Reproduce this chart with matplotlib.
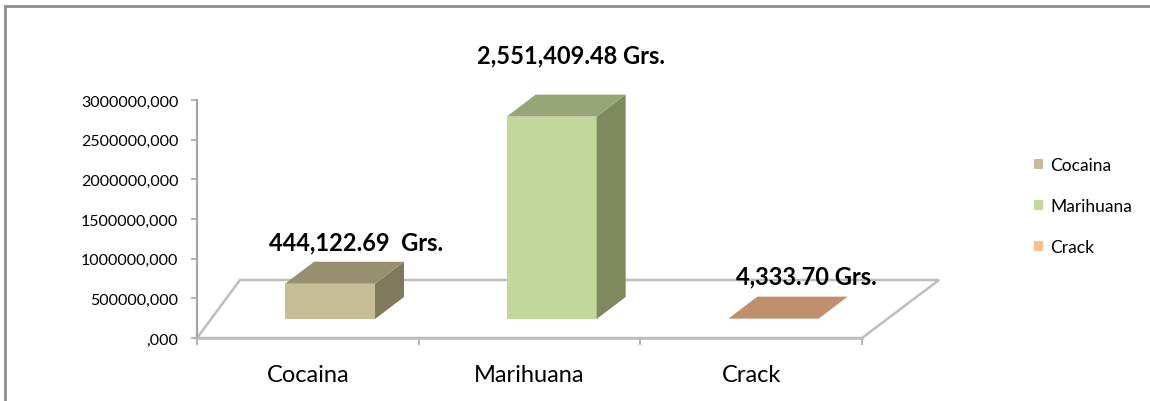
import matplotlib
matplotlib.use('Agg')
import matplotlib.pyplot as plt
from matplotlib.patches import Polygon, Patch, Rectangle

categories = ['Cocaina', 'Marihuana', 'Crack']
values = [444122.69, 2551409.48, 4333.70]
value_labels = ['444,122.69  Grs.', '2,551,409.48 Grs.', '4,333.70 Grs.']
yticks = [0, 500000, 1000000, 1500000, 2000000, 2500000, 3000000]

front_colors = ['#C4BD97', '#C3D69B', '#C79873']
top_colors = ['#969070', '#97A576', '#C08F6B']
side_colors = ['#7F7A5B', '#7E8A5D', '#A87A58']
legend_colors = ['#C4BD97', '#C3D69B', '#FAC090']

plt.rcParams['font.family'] = ['Lato', 'DejaVu Sans']

W, H = 1150, 402
fig = plt.figure(figsize=(W / 100, H / 100), dpi=100)
ax = fig.add_axes([197 / W, (H - 339) / H, 665 / W, 238 / H])
ax.set_xlim(0, 3)
ax.set_ylim(0, 3000000)

# pseudo 3d geometry (data units)
px_x = 3 / 665
px_y = 3000000 / 238
floor_dy = 58 * px_y
bar_base = 19 * px_y
bar_w = 90 * px_x
depth_dx = 29 * px_x
depth_dy = 22 * px_y

floor = Polygon([(0, 0), (3, 0), (3 + 77 * px_x, floor_dy), (43 * px_x, floor_dy)],
                closed=True, fill=False, edgecolor='#BDBDBD', lw=1.8, clip_on=False, zorder=1)
ax.add_patch(floor)

for i, v in enumerate(values):
    x0 = i + 0.6 - bar_w / 2
    x1 = x0 + bar_w
    y0 = bar_base
    y1 = bar_base + v
    ax.bar(i + 0.6, v, width=bar_w, bottom=bar_base, color=front_colors[i],
           clip_on=False, zorder=3)
    top = Polygon([(x0, y1), (x1, y1), (x1 + depth_dx, y1 + depth_dy), (x0 + depth_dx, y1 + depth_dy)],
                  closed=True, facecolor=top_colors[i], edgecolor='none', clip_on=False, zorder=3)
    side = Polygon([(x1, y0), (x1 + depth_dx, y0 + depth_dy), (x1 + depth_dx, y1 + depth_dy), (x1, y1)],
                   closed=True, facecolor=side_colors[i], edgecolor='none', clip_on=False, zorder=3)
    ax.add_patch(side)
    ax.add_patch(top)

label_offsets = [(-3, 20), (-10, 40), (4, 21)]
for i, v in enumerate(values):
    ax.annotate(value_labels[i], xy=(i + 0.6 + depth_dx, bar_base + v + depth_dy),
                xytext=(label_offsets[i][0] * 0.72, label_offsets[i][1] * 0.72),
                textcoords='offset points', ha='center', va='center',
                fontsize=17, fontweight='bold', color='black', annotation_clip=False)

for s in ['top', 'right']:
    ax.spines[s].set_visible(False)
ax.spines['left'].set_color('#A6A6A6')
ax.spines['left'].set_linewidth(1.6)
ax.spines['bottom'].set_color('#BDBDBD')
ax.spines['bottom'].set_linewidth(1.8)

ax.set_yticks(yticks)
ax.set_yticklabels([(str(t) if t else '') + ',000' for t in yticks], fontsize=11.5)
ax.tick_params(axis='y', length=4.5, color='#A6A6A6', width=1.2, pad=9)
ax.set_xticks([0, 1, 2, 3])
ax.set_xticklabels([])
ax.tick_params(axis='x', which='major', length=5, color='#A6A6A6', width=1.2, direction='out')
ax.set_xticks([0.5, 1.5, 2.5], minor=True)
ax.set_xticklabels(categories, minor=True, fontsize=17)
ax.tick_params(axis='x', which='minor', length=0, pad=19)
ax.patch.set_alpha(0)

handles = [Patch(facecolor=c, edgecolor='none') for c in legend_colors]
fig.legend(handles, categories, loc='center left', bbox_to_anchor=(1034 / W, 1 - 207 / H),
           frameon=False, fontsize=12.5, labelspacing=1.45, handlelength=0.5,
           handleheight=0.5, handletextpad=0.45, borderpad=0, borderaxespad=0)

# outer chart frame
fig.patches.append(Rectangle((5 / W, -0.1), 1.2, 1.1 - 7 / H, transform=fig.transFigure,
                             fill=False, edgecolor='#8C8C8C', lw=2))

fig.savefig('out.png', dpi=100)
